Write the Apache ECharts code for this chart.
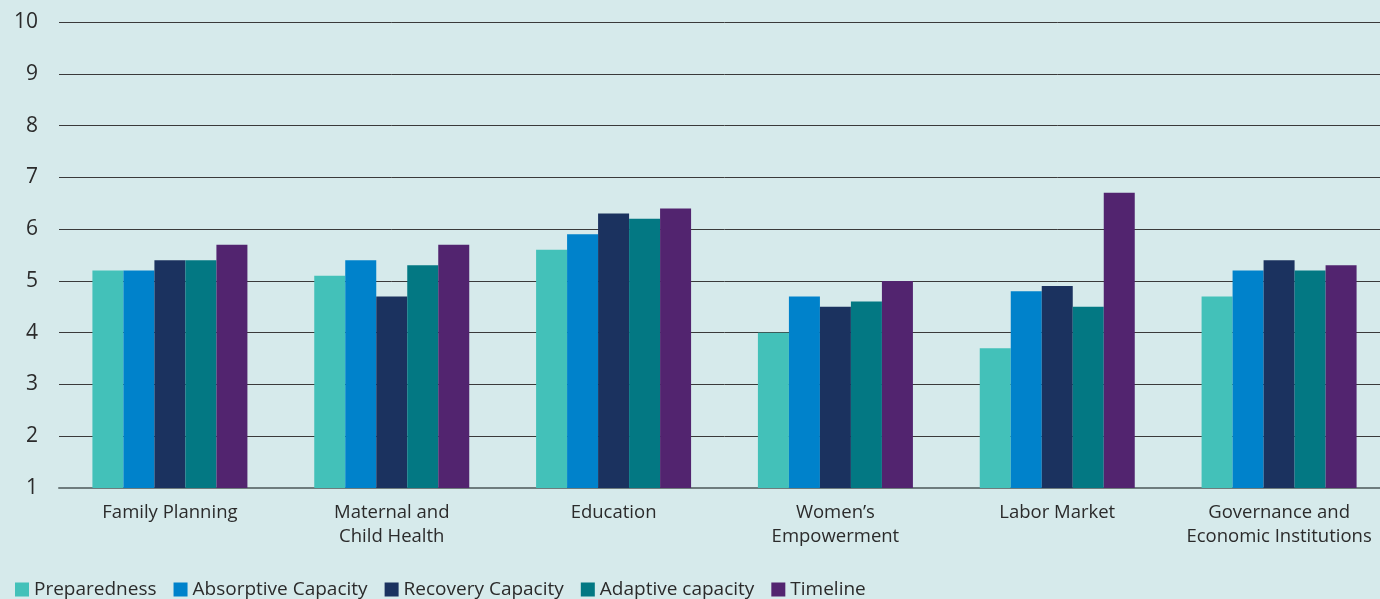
<!DOCTYPE html>
<html>
<head>
<meta charset="utf-8">
<script src="https://cdn.jsdelivr.net/npm/echarts@6/dist/echarts.min.js"></script>
<style>
  html, body { margin: 0; padding: 0; background: #d6eaeb; overflow: hidden; }
  #chart { width: 1390px; height: 599px; }
</style>
</head>
<body>
<div id="chart"></div>
<script>
// Resilience capacity scores by sector
const categories = [
  'Family Planning',
  'Maternal and\nChild Health',
  'Education',
  'Women\u2019s\nEmpowerment',
  'Labor Market',
  'Governance and\nEconomic Institutions'
];
const seriesNames = ['Preparedness', 'Absorptive Capacity', 'Recovery Capacity', 'Adaptive capacity', 'Timeline'];
const preparedness = [5.2, 5.1, 5.6, 4.0, 3.7, 4.7];
const absorptive   = [5.2, 5.4, 5.9, 4.7, 4.8, 5.2];
const recovery     = [5.4, 4.7, 6.3, 4.5, 4.9, 5.4];
const adaptive     = [5.4, 5.3, 6.2, 4.6, 4.5, 5.2];
const timeline     = [5.7, 5.7, 6.4, 5.0, 6.7, 5.3];
const yTicks = [1, 2, 3, 4, 5, 6, 7, 8, 9, 10];

const colors = ['#43c1b9', '#0082cb', '#1b325f', '#037883', '#52246f'];
const values = [preparedness, absorptive, recovery, adaptive, timeline];
const font = '"Open Sans", Lato, sans-serif';

const chart = echarts.init(document.getElementById('chart'));
chart.setOption({
  backgroundColor: '#d6eaeb',
  animation: false,
  textStyle: { fontFamily: font },
  color: colors,
  grid: { left: 59, right: 0, top: 22, bottom: 111, containLabel: false },
  legend: {
    left: 10,
    top: 575,
    itemWidth: 14,
    itemHeight: 14,
    itemGap: 17,
    icon: 'rect',
    textStyle: { fontSize: 19, color: '#2b2b2b', fontFamily: font },
    data: seriesNames
  },
  xAxis: {
    type: 'category',
    data: categories,
    axisLine: { show: true, lineStyle: { color: '#6e7c7d', width: 2 } },
    axisTick: { show: false },
    axisLabel: {
      margin: 13,
      fontSize: 18.5,
      lineHeight: 24,
      color: '#2b2b2b',
      interval: 0
    }
  },
  yAxis: {
    type: 'value',
    min: yTicks[0],
    max: yTicks[yTicks.length - 1],
    interval: 1,
    axisLine: { show: false },
    axisTick: { show: false },
    axisLabel: { margin: 21, fontSize: 21, color: '#2b2b2b' },
    splitLine: { lineStyle: { color: '#3a3a3a', width: 1 } }
  },
  series: seriesNames.map((name, i) => ({
    name: name,
    type: 'bar',
    data: values[i],
    barWidth: 31,
    barGap: '0%',
    itemStyle: { color: colors[i] }
  }))
});
</script>
</body>
</html>
